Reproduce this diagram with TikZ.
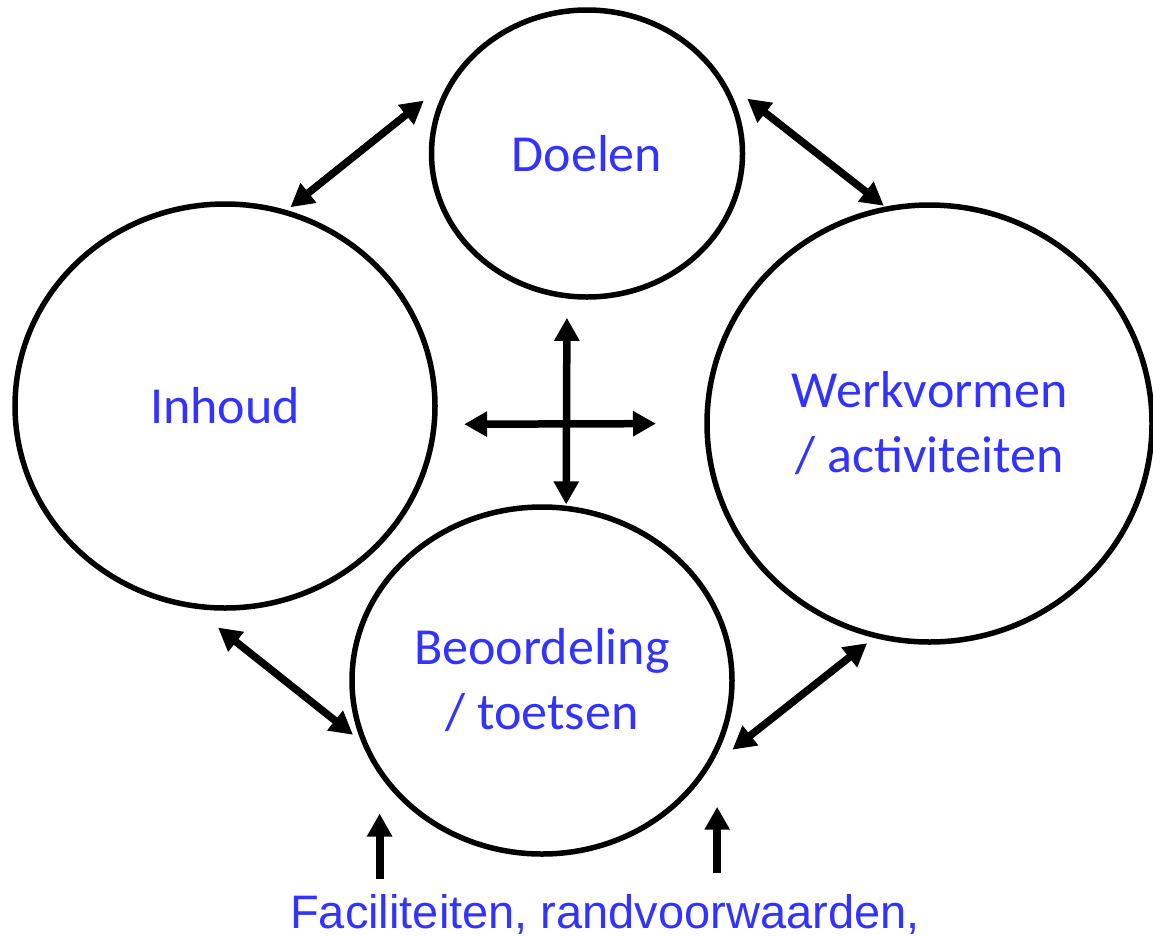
\documentclass[tikz,border=0pt]{standalone}
\usepackage{fontspec}
\setmainfont{Carlito}
\newfontfamily\arialfont{Liberation Sans}
\usetikzlibrary{shapes.geometric,arrows.meta}
\definecolor{blauw}{RGB}{51,51,255}

\begin{document}
\begin{tikzpicture}[
	x=1pt, y=-1pt,
	>={Triangle[length=23pt,width=24pt]},
	cirkel/.style={ellipse, draw, line width=5.5pt, inner sep=0pt, outer sep=0pt, text=blauw, align=center, font=\fontsize{52}{65}\selectfont},
	pijl/.style={line width=7.5pt, <->},
	enkel/.style={line width=8pt, ->},
	]
	\useasboundingbox (0,0) rectangle (1153,935);
	\node [cirkel, minimum width=311pt, minimum height=287pt] (doelen) at (587,153.5) {Doelen};
	\node [cirkel, minimum width=420pt, minimum height=404pt] (inhoud) at (225,406) {Inhoud};
	\node [cirkel, minimum width=445pt, minimum height=437pt] (werkvormen) at (929.5,423.5) {Werkvormen\\/ activiteiten};
	\node [cirkel, minimum width=380pt, minimum height=347pt] (beoordeling) at (542,680.5) {Beoordeling\\/ toetsen};
	\node [font=\arialfont\fontsize{47}{56}\selectfont, text=blauw, anchor=base, inner sep=0pt] (facil) at (605,928) {Faciliteiten, randvoorwaarden,};

	\draw [pijl, shorten <=8pt, shorten >=44pt] (inhoud.73) -- (doelen.148);
	\draw [pijl, shorten <=38pt, shorten >=5pt] (doelen.31) -- (werkvormen.101);
	\draw [pijl, shorten <=36pt, shorten >=16pt] (inhoud.260) -- (beoordeling.200);
	\draw [pijl, shorten <=38pt, shorten >=12pt] (beoordeling.330) -- (werkvormen.256);
	\draw [pijl, shorten <=22pt, shorten >=4pt] (doelen.262) -- (beoordeling.82);
	\draw [pijl, shorten <=30pt, shorten >=51pt] (inhoud.-5) -- (werkvormen.180);

	\draw [enkel, shorten <=15pt, shorten >=43pt] (beoordeling.209 |- facil.north) -- (beoordeling.209);
	\draw [enkel, shorten <=21pt, shorten >=59pt] (beoordeling.339 |- facil.north) -- (beoordeling.339);
\end{tikzpicture}
\end{document}
